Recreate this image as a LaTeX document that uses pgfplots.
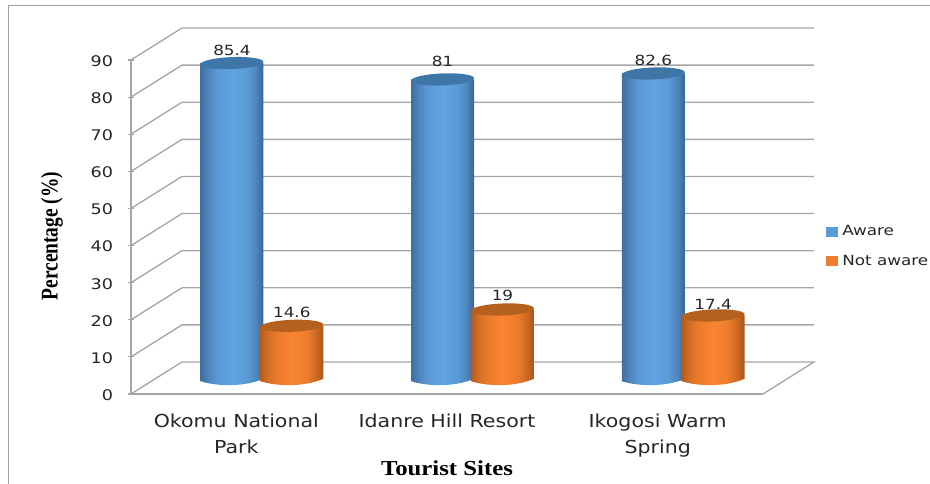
\documentclass[border=0pt]{standalone}
\usepackage{fontspec}
\usepackage{pgfplots}
\usepackage{pgfplotstable}
\pgfplotsset{compat=1.18}
\setmainfont[FakeStretch=1.2]{DejaVu Sans}
\newfontfamily\catfont[FakeStretch=1.15]{DejaVu Sans}
\newfontfamily\titlefont[FakeStretch=1.16]{Liberation Serif}
\newfontfamily\ytitlefont[FakeStretch=0.81]{Liberation Serif}
\definecolor{gridc}{HTML}{A6A6A6}
\definecolor{framec}{HTML}{A0A0A0}
\definecolor{txt}{HTML}{262626}
\definecolor{bt}{HTML}{3F76A8}
\definecolor{ot}{HTML}{B4601F}
\definecolor{blegend}{HTML}{5B9BD5}
\definecolor{olegend}{HTML}{ED7D31}
\definecolor{ba}{RGB}{63,111,158}
\definecolor{bb}{RGB}{78,133,188}
\definecolor{bc}{RGB}{90,153,212}
\definecolor{bd}{RGB}{96,163,227}
\definecolor{be}{RGB}{90,154,214}
\definecolor{bf}{RGB}{78,134,190}
\definecolor{bg}{RGB}{58,102,144}
\definecolor{oa}{RGB}{181,92,28}
\definecolor{ob}{RGB}{212,110,37}
\definecolor{oc}{RGB}{234,123,44}
\definecolor{od}{RGB}{249,132,49}
\definecolor{oe}{RGB}{236,124,45}
\definecolor{of}{RGB}{204,106,36}
\definecolor{og}{RGB}{168,85,24}

\pgfdeclarehorizontalshading{cylblue}{100bp}{%
  color(0bp)=(ba); color(25bp)=(ba); color(31bp)=(bb); color(38bp)=(bc);
  color(50bp)=(bd); color(62bp)=(be); color(69bp)=(bf); color(75bp)=(bg); color(100bp)=(bg)}
\pgfdeclarehorizontalshading{cylorange}{100bp}{%
  color(0bp)=(oa); color(25bp)=(oa); color(31bp)=(ob); color(38bp)=(oc);
  color(50bp)=(od); color(62bp)=(oe); color(69bp)=(of); color(75bp)=(og); color(100bp)=(og)}

% 1px of the reference = 0.75pt here, 250.5pt for 90 units
\newcommand\cylinder[2]{%
  \pgfmathsetlengthmacro\barh{\val*2.78333}%
  \path[draw=none,shading=#1]
    (-23.6pt,0pt) -- (23.6pt,0pt) -- (23.6pt,-\barh+0.9pt)
    .. controls (10pt,-\barh-5pt) and (-10pt,-\barh-5.2pt) .. (-23.6pt,-\barh-0.9pt) -- cycle;
  \pgfpathellipse{\pgfpointorigin}{\pgfqpoint{23.6pt}{0.9pt}}{\pgfqpoint{0pt}{4.5pt}}%
  \pgfsetfillcolor{#2}%
  \pgfusepathqfill}
\pgfdeclareplotmark{cylb}{\cylinder{cylblue}{bt}}
\pgfdeclareplotmark{cylo}{\cylinder{cylorange}{ot}}

\pgfplotstableread{
x y s
0.358 85.4 9.75
1.358 81 13.5
2.358 82.6 9.75
}\aware
\pgfplotstableread{
x y s
0.642 14.6 9.75
1.642 19 10.5
2.642 17.4 8.5
}\notaware

\pgfplotsset{
  vallabels/.style={only marks,mark=none,forget plot,
    visualization depends on={\thisrow{s} \as \lshift},
    nodes near coords,
    nodes near coords style={anchor=center,yshift=\lshift*1pt,font=\fontsize{10.5}{12}\selectfont,text=txt}},
  cyls/.style={scatter,only marks,mark=#1,forget plot,scatter src=y,
    visualization depends on={\thisrow{y} \as \val}},
}

\begin{document}
\begin{tikzpicture}
\path[use as bounding box] (0,0) rectangle (697.5pt,363pt);
\draw[framec,line width=0.9pt] (6.4pt,0pt) -- (6.4pt,358.9pt) -- (697.5pt,358.9pt);

% walls, floor and ticks
\begin{axis}[
    at={(98.25pt,67.5pt)},
    anchor=south west,
    scale only axis,
    width=474pt,
    height=250.5pt,
    xmin=0,xmax=3,
    ymin=0,ymax=90,
    clip=false,
    axis x line=bottom,
    axis y line=left,
    axis line style={-,gridc,line width=1pt},
    tick style={gridc,line width=0.8pt},
    major tick length=5pt,
    minor tick length=5pt,
    xtick={0.5,1.5,2.5},
    xticklabels={{\catfont Okomu National\\\catfont Park},{\catfont Idanre Hill Resort},{\catfont Ikogosi Warm\\\catfont Spring}},
    x tick label style={align=center,font=\fontsize{13.4}{19.5}\selectfont,text=txt,yshift=-8.8pt},
    minor xtick={0,1,2,3},
    x tick style={draw=none},
    minor x tick style={gridc,line width=0.8pt},
    ytick={0,10,...,90},
    y tick label style={font=\fontsize{11}{12}\selectfont,text=txt,xshift=-7.5pt,yshift=-0.8pt},
    /pgf/number format/assume math mode=true,
    xlabel={\titlefont\bfseries Tourist Sites},
    xlabel style={at={(axis description cs:0.5,-0.2216)},anchor=center,font=\fontsize{16}{18}\selectfont,text=black},
    ylabel={\ytitlefont\bfseries Percentage (\%)},
    ylabel style={at={(axis description cs:-0.125,0.473)},anchor=center,rotate=0,font=\fontsize{18}{20}\selectfont,text=black},
]
\addplot[gridc,line width=1pt,unbounded coords=jump] table {
x y
0 0
0.242 8.62
3.242 8.62
3 0
nan nan
0 10
0.242 18.62
3.242 18.62
nan nan
0 20
0.242 28.62
3.242 28.62
nan nan
0 30
0.242 38.62
3.242 38.62
nan nan
0 40
0.242 48.62
3.242 48.62
nan nan
0 50
0.242 58.62
3.242 58.62
nan nan
0 60
0.242 68.62
3.242 68.62
nan nan
0 70
0.242 78.62
3.242 78.62
nan nan
0 80
0.242 88.62
3.242 88.62
nan nan
0 90
0.242 98.62
3.242 98.62
};
\end{axis}

% cylinders stand halfway into the floor
\begin{axis}[
    at={(117.4pt,78pt)},
    anchor=south west,
    scale only axis,
    width=474pt,
    height=250.5pt,
    xmin=0,xmax=3,
    ymin=0,ymax=90,
    clip=false,
    axis lines=none,
    /pgf/number format/assume math mode=true,
    legend style={at={(1.059,0.4)},anchor=west,draw=none,fill=none,inner sep=0pt,
        font=\fontsize{10.5}{12}\selectfont,text=txt,
        row sep=9pt,
        /tikz/column 1/.style={column sep=1.5pt}},
    legend cell align=left,
]
\addplot[vallabels] table[x=x,y=y] {\aware};
\addplot[cyls=cylb] table[x=x,y=y] {\aware};
\addplot[vallabels] table[x=x,y=y] {\notaware};
\addplot[cyls=cylo] table[x=x,y=y] {\notaware};
\addlegendimage{legend image code/.code={\fill[blegend] (0pt,-3.4pt) rectangle (8.25pt,3.4pt);}}
\addlegendimage{legend image code/.code={\fill[olegend] (0pt,-3.4pt) rectangle (8.25pt,3.4pt);}}
\legend{Aware,Not aware}
\end{axis}
\end{tikzpicture}
\end{document}
